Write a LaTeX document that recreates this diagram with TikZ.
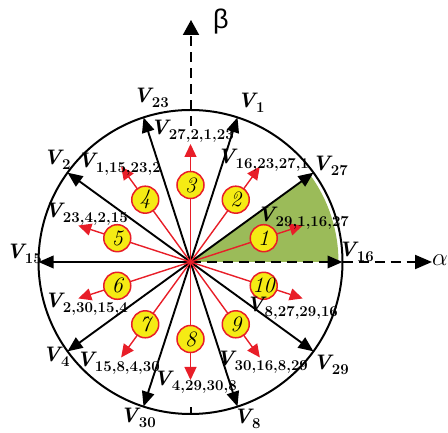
\documentclass[tikz,border=0pt]{standalone}
\usepackage{fontspec}
\newfontfamily\greekfont{Liberation Sans}
\usetikzlibrary{arrows.meta}
\definecolor{myred}{RGB}{232,30,40}
\definecolor{myyellow}{RGB}{245,235,20}
\definecolor{mygreen}{RGB}{155,187,89}
\newcommand\Vlab[1]{{\fontsize{21}{21}\selectfont\bfseries\itshape V}\kern0.5pt\raisebox{-5pt}{\fontsize{15}{15}\selectfont\bfseries #1}}
\newcommand\numlab[1]{{\fontsize{22}{22}\selectfont\itshape #1}}
\begin{document}
\begin{tikzpicture}[x=1pt,y=1pt,
  vec/.style={line width=1.9pt, -{Triangle[length=15pt,width=12.5pt]}},
  rvec/.style={myred, line width=1.4pt, -{Triangle[length=13pt,width=12pt]}},
  numc/.style={circle, draw=myred, line width=1.5pt, fill=myyellow, minimum size=27pt, inner sep=0pt},
  lab/.style={inner sep=0pt},
  axisline/.style={line width=1.9pt, dash pattern=on 10pt off 6pt}]
\useasboundingbox (0,0) rectangle (448,433);
\coordinate (O) at (190.5,171);
% green sector
\fill[mygreen] (O) -- ++(0:148) arc[start angle=0,end angle=36,radius=148] -- cycle;
% outer circle
\draw[line width=2pt] (O) circle[radius=152];
% beta axis
\coordinate (bstart) at (191,307);
\coordinate (btop) at (191,413);
\draw[axisline, -{Triangle[length=15pt,width=16pt]}] (bstart) -- (btop);
\coordinate (bb1) at (191,19);
\coordinate (bb2) at (191,26);
\draw[line width=1.5pt] (bb1) -- (bb2);
% black vectors
\foreach \a in {36,72,108,144,180,216,252,288,324}{
  \path (O) ++(\a:152) coordinate (tip\a);
  \draw[vec] (O) -- (tip\a);
}
\path (O) ++(0:152) coordinate (tip0);
\draw[axisline, -{Triangle[length=15pt,width=12.5pt]}] (O) -- (tip0);
\coordinate (aend) at (432,171);
\draw[axisline, -{Triangle[length=17pt,width=14pt]}] (tip0) -- (aend);
% red vectors
\foreach \a/\n in {18/1,54/2,90/3,126/4,162/5,198/6,234/7,270/8,306/9,342/10}{
  \path (O) ++(\a:118) coordinate (r\n);
  \draw[rvec] (O) -- (r\n);
}
\foreach \a/\n in {18/1,54/2,90/3,126/4,162/5,198/6,234/7,270/8,306/9,342/10}{
  \path (O) ++(\a:77) node[numc] (c\n) {\numlab{\n}};
}
% outer labels
\node[lab] (l23) at (151,335) {\Vlab{23}};
\node[lab] (l1) at (251,330) {\Vlab{1}};
\node[lab] (l27) at (330,267) {\Vlab{27}};
\node[lab] (l16) at (356,181) {\Vlab{16}};
\node[lab] (l29) at (331,68) {\Vlab{29}};
\node[lab] (l8) at (247,14) {\Vlab{8}};
\node[lab] (l30) at (138,15) {\Vlab{30}};
\node[lab] (l4) at (56,76) {\Vlab{4}};
\node[lab] (l15) at (24,179) {\Vlab{15}};
\node[lab] (l2) at (57,273) {\Vlab{2}};
% red labels
\node[lab] (m1) at (303,215) {\Vlab{29,1,16,27}};
\node[lab] (m2) at (263,273) {\Vlab{16,23,27,1}};
\node[lab] (m3) at (192,302) {\Vlab{27,2,1,23}};
\node[lab] (m4) at (119,269) {\Vlab{1,15,23,2}};
\node[lab] (m5) at (86,219) {\Vlab{23,4,2,15}};
\node[lab] (m6) at (86,129) {\Vlab{2,30,15,4}};
\node[lab] (m7) at (118,70) {\Vlab{15,8,4,30}};
\node[lab] (m8) at (195,51) {\Vlab{4,29,30,8}};
\node[lab] (m9) at (262,71) {\Vlab{30,16,8,29}};
\node[lab] (m10) at (292,125) {\Vlab{8,27,29,16}};
% axis labels
\node[lab] (beta) at (221,411) {\fontsize{27}{27}\selectfont\greekfont β};
\node[lab] (alpha) at (440,173) {\fontsize{30}{30}\selectfont$\alpha$};
\end{tikzpicture}
\end{document}
